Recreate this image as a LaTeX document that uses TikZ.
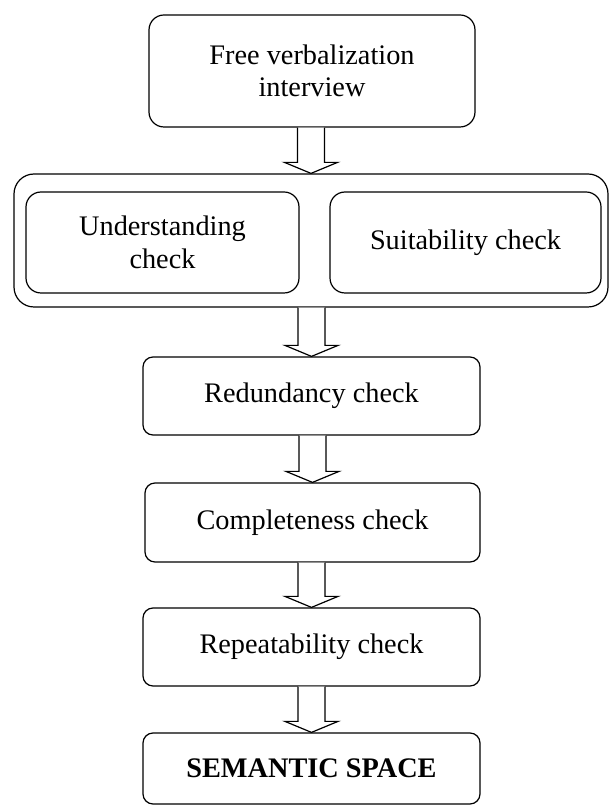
\documentclass[tikz,border=0pt]{standalone}
\usepackage{fontspec}
\setmainfont{Liberation Serif}
\usetikzlibrary{calc}
\newcommand{\flowarrow}[2]{%
  \draw[blockarrow]
    ($(#2.north |- #1.south)+(-13.5,0)$) --
    ($(#2.north)+(-13.5,11)$) --
    ($(#2.north)+(-26.5,11)$) --
    (#2.north) --
    ($(#2.north)+(26.5,11)$) --
    ($(#2.north)+(13.5,11)$) --
    ($(#2.north |- #1.south)+(13.5,0)$);%
}
\begin{document}
\begin{tikzpicture}[x=1pt,y=1pt,
  box/.style={draw, line width=1.2pt, rounded corners=10pt, inner sep=0pt,
    align=center, font=\fontsize{28.3}{32.5}\selectfont},
  blockarrow/.style={draw, line width=1.2pt, fill=white, line join=miter}]
\useasboundingbox (0,0) rectangle (609,807);
\node[box, rounded corners=15pt, minimum width=326pt, minimum height=112pt] (free) at (312,736) {Free verbalization\\interview};
\node[box, rounded corners=20pt, minimum width=594pt, minimum height=133pt] (group) at (311,566.5) {};
\node[box, rounded corners=15pt, minimum width=273pt, minimum height=101pt] (under) at (162.5,564.5) {Understanding\\check};
\node[box, rounded corners=15pt, minimum width=271pt, minimum height=101pt] (suit) at (465.5,564.5) {Suitability check};
\node[box, minimum width=337pt, minimum height=78pt] (redund) at (311.5,411) {Redundancy check};
\node[box, minimum width=335pt, minimum height=79pt] (complete) at (312.5,284.5) {Completeness check};
\node[box, minimum width=337pt, minimum height=78pt] (repeat) at (311.5,160) {Repeatability check};
\node[box, minimum width=337pt, minimum height=71pt, font=\fontsize{28.3}{32.5}\selectfont\bfseries] (semantic) at (311.5,38.5) {SEMANTIC SPACE};
\flowarrow{free}{group}
\flowarrow{group}{redund}
\flowarrow{redund}{complete}
\flowarrow{complete}{repeat}
\flowarrow{repeat}{semantic}
\end{tikzpicture}
\end{document}
